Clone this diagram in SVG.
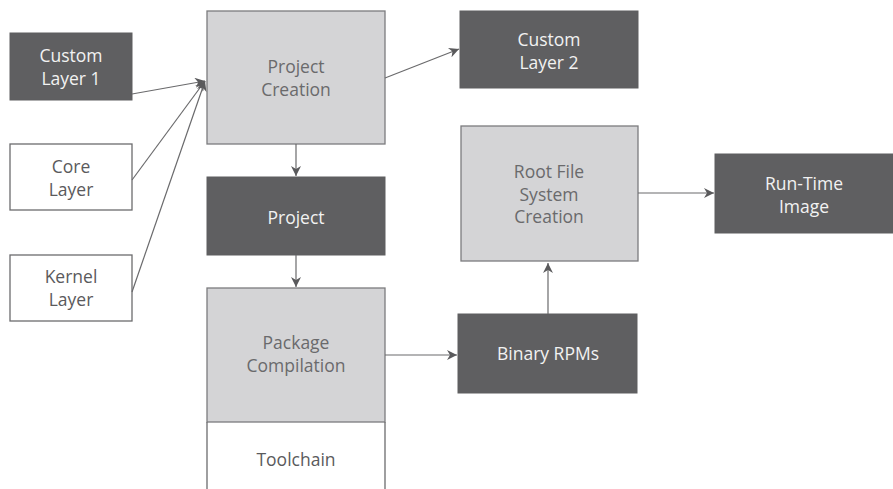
<svg xmlns="http://www.w3.org/2000/svg" width="893" height="489" viewBox="0 0 893 489">
<defs>
<marker id="ah" viewBox="0 0 10 10" refX="10" refY="5" markerWidth="10" markerHeight="10" markerUnits="userSpaceOnUse" orient="auto">
<path d="M0,0 L10,5 L0,10 L3,5 Z" fill="#5a5a5c"/>
</marker>
<style>
text{font-family:"Open Sans","Noto Sans","Liberation Sans",sans-serif;font-size:17.5px;text-anchor:middle}
.dark rect{fill:#5f5f61;stroke:#5f5f61}
.dark text{fill:#f2f2f2}
.light rect{fill:#d4d4d6;stroke:#7c7c7e;stroke-width:1.3}
.light text{fill:#6a6a6c}
.white rect{fill:#ffffff;stroke:#6c6c6e;stroke-width:1.3}
.white text{fill:#5a5a5c}
#connectors line{stroke:#6a6a6c;stroke-width:1.2;fill:none;marker-end:url(#ah)}
</style>
</defs>
<rect width="893" height="489" fill="#ffffff"/>
<g id="custom-layer-1" class="dark"><rect x="10" y="33" width="122" height="67"/><text x="71" y="62">Custom</text><text x="71" y="85">Layer 1</text></g>
<g id="core-layer" class="white"><rect x="10" y="144" width="122" height="66"/><text x="71" y="173">Core</text><text x="71" y="196">Layer</text></g>
<g id="kernel-layer" class="white"><rect x="10" y="255" width="122" height="66"/><text x="71" y="283">Kernel</text><text x="71" y="306">Layer</text></g>
<g id="project-creation" class="light"><rect x="207" y="11" width="178" height="133"/><text x="296" y="73">Project</text><text x="296" y="96">Creation</text></g>
<g id="project" class="dark"><rect x="207" y="177" width="178" height="78"/><text x="296" y="224">Project</text></g>
<g id="package-compilation" class="light"><rect x="207" y="288" width="178" height="134"/><text x="296" y="349">Package</text><text x="296" y="372">Compilation</text></g>
<g id="toolchain" class="white"><path d="M207,422 L207,489 M385,422 L385,489" stroke="#6c6c6e" stroke-width="1.3" fill="none"/><text x="296" y="466">Toolchain</text></g>
<g id="custom-layer-2" class="dark"><rect x="460" y="11" width="178" height="77"/><text x="549" y="46">Custom</text><text x="549" y="69">Layer 2</text></g>
<g id="root-fs-creation" class="light"><rect x="461" y="126" width="177" height="135"/><text x="549" y="178">Root File</text><text x="549" y="201">System</text><text x="549" y="223">Creation</text></g>
<g id="run-time-image" class="dark"><rect x="715" y="154" width="178" height="79"/><text x="804" y="190">Run-Time</text><text x="804" y="213">Image</text></g>
<g id="binary-rpms" class="dark"><rect x="458" y="314" width="179" height="79"/><text x="548" y="360">Binary RPMs</text></g>
<g id="connectors">
<line x1="132" y1="94" x2="205" y2="81"/>
<line x1="132" y1="180" x2="205" y2="81"/>
<line x1="132" y1="292" x2="205" y2="81"/>
<line x1="385" y1="78" x2="459" y2="49"/>
<line x1="296" y1="144" x2="296" y2="176"/>
<line x1="296" y1="255" x2="296" y2="287"/>
<line x1="385" y1="355" x2="457" y2="355"/>
<line x1="548" y1="314" x2="548" y2="263"/>
<line x1="638" y1="193" x2="714" y2="193"/>
</g>
</svg>
